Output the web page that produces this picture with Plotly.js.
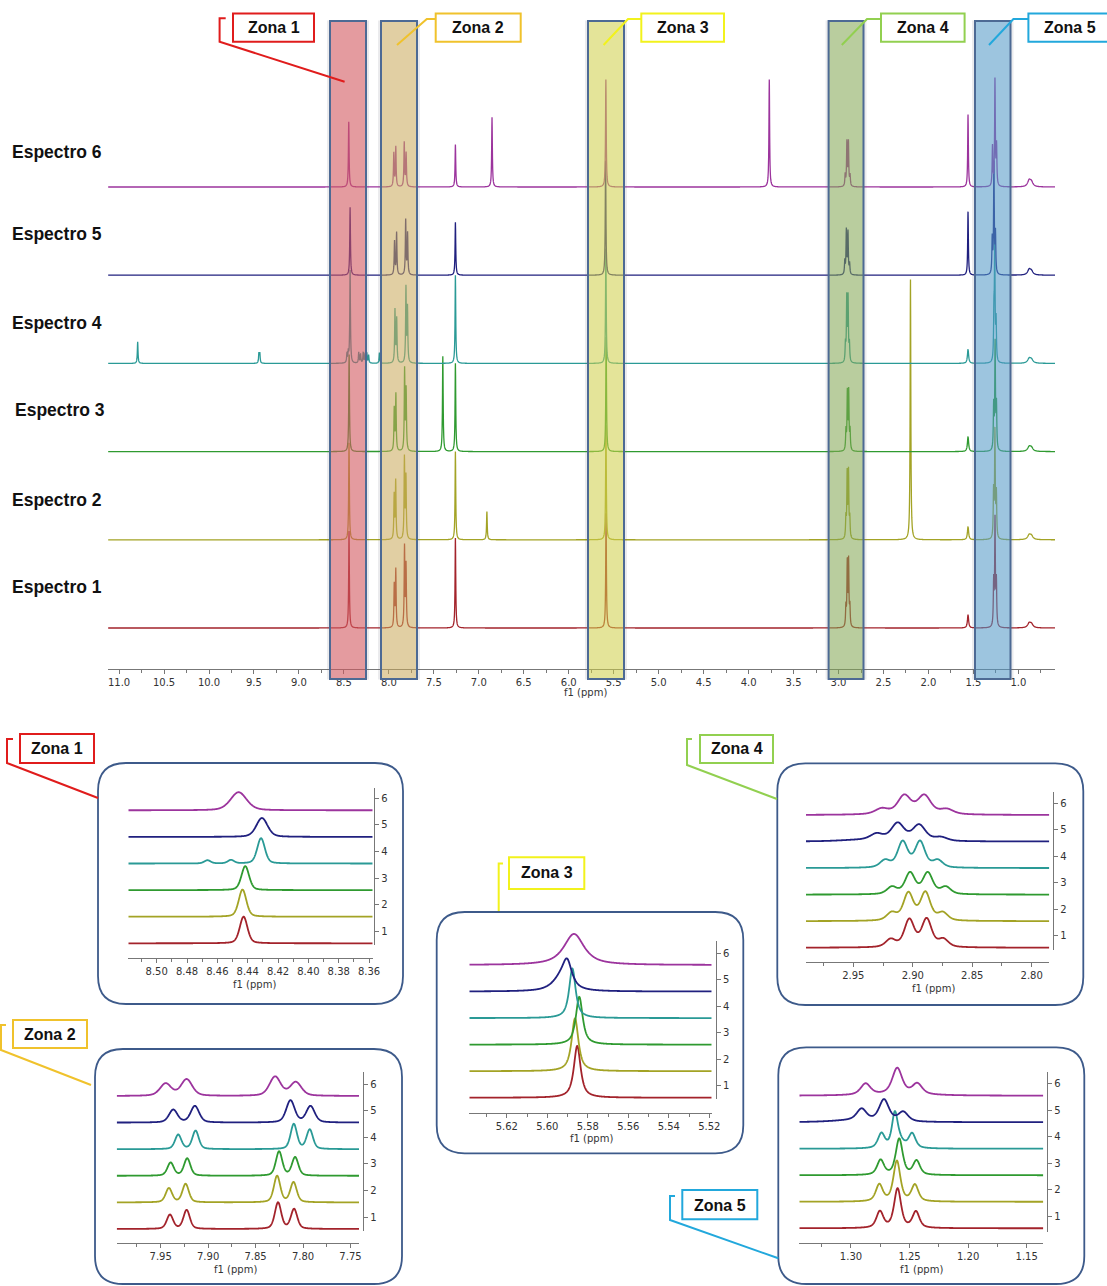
<!DOCTYPE html>
<html><head><meta charset="utf-8">
<script src="https://cdn.plot.ly/plotly-3.0.1.min.js"></script>
<style>body{margin:0;background:#fff}#chart{width:1107px;height:1286px}</style>
</head><body><div id="chart"></div>
<script>
// ---------------- DATA ----------------
const spectrumNames = ['Espectro 1','Espectro 2','Espectro 3','Espectro 4','Espectro 5','Espectro 6'];
const stackLabels = ['1','2','3','4','5','6'];
const zoneNames = ['Zona 1','Zona 2','Zona 3','Zona 4','Zona 5'];
const mainTickStep = 0.5;

// main spectra: [ppm, height (units of stack spacing), optional half width]
const mainE1 = [[8.443,1.10],[7.940,0.48],[7.923,0.65],[7.826,0.91],[7.809,0.70],[7.26,1.02],[5.585,1.30],
  [2.918,0.22],[2.903,0.71],[2.888,0.73],[2.874,0.22],[1.56,0.15,0.008],[1.275,0.50],[1.260,1.20],[1.245,0.50],[0.88,0.05,0.02],[0.855,0.04,0.02]];
const mainE2 = [[8.443,1.10],[7.941,0.50],[7.924,0.66],[7.827,0.92],[7.810,0.70],[7.26,1.00],[6.91,0.32],[5.586,1.30],
  [2.918,0.22],[2.904,0.72],[2.889,0.74],[2.875,0.22],[2.20,2.95],[1.56,0.15,0.008],[1.276,0.52],[1.261,1.20],[1.245,0.50],[0.88,0.05,0.02],[0.855,0.04,0.02]];
const mainE3 = [[8.442,1.10],[7.940,0.48],[7.922,0.64],[7.825,0.92],[7.808,0.69],[7.40,1.08],[7.26,1.00],[5.584,1.30],
  [2.9175,0.22],[2.902,0.64],[2.887,0.65],[2.872,0.22],[1.56,0.17,0.008],[1.275,0.50],[1.259,1.20],[1.244,0.50],[0.88,0.05,0.02],[0.855,0.04,0.02]];
const mainE4 = [[10.793,0.245],[9.445,0.11],[9.435,0.11],[8.431,1.05],[8.466,0.10],[8.451,0.11],[8.335,0.12],[8.315,0.10],[8.285,0.12],
  [8.265,0.10],[8.245,0.11],[8.225,0.09],[8.105,0.12],[7.932,0.60],[7.913,0.50],[7.810,0.85],[7.793,0.62],[7.26,1.00],[5.587,1.30],
  [2.923,0.20],[2.9085,0.72],[2.894,0.72],[2.879,0.20],[1.56,0.16,0.008],[1.272,0.50],[1.263,1.25],[1.248,0.45],[0.88,0.05,0.02],[0.855,0.04,0.02]];
const mainE5 = [[8.431,0.77],[7.937,0.38],[7.914,0.48],[7.813,0.62],[7.792,0.47],[7.26,0.60],[5.590,1.30],
  [2.930,0.15],[2.913,0.50],[2.895,0.48],[2.877,0.12],[1.56,0.72],[1.291,0.40],[1.272,1.25],[1.255,0.45],[0.88,0.06,0.02],[0.855,0.04,0.02]];
const mainE6 = [[8.446,0.74],[7.945,0.38],[7.923,0.45],[7.829,0.50],[7.808,0.38],[7.26,0.48],[6.853,0.79],[5.587,1.22],[3.77,1.22],
  [2.926,0.13],[2.907,0.50],[2.890,0.50],[2.872,0.12],[1.56,0.82],[1.288,0.45],[1.2605,1.20],[1.243,0.45],[0.88,0.07,0.02],[0.855,0.05,0.02]];

// zoomed zones: per spectrum 1..6, [ppm, height, half width]
const zona1Peaks = [
  [[8.4427,1.00,0.003]],
  [[8.4434,1.02,0.003]],
  [[8.4416,0.90,0.003]],
  [[8.4312,0.95,0.003],[8.4665,0.12,0.0025],[8.4510,0.13,0.0025]],
  [[8.4306,0.71,0.0044]],
  [[8.4460,0.68,0.0063]]
];
const zona2Peaks = [
  [[7.9402,0.53,0.004],[7.9226,0.71,0.004],[7.8263,0.99,0.004],[7.8094,0.74,0.004]],
  [[7.9413,0.53,0.004],[7.9237,0.69,0.004],[7.8273,0.99,0.004],[7.8100,0.75,0.004]],
  [[7.9395,0.49,0.004],[7.9220,0.65,0.004],[7.8252,0.91,0.004],[7.8083,0.69,0.004]],
  [[7.9315,0.54,0.004],[7.9132,0.69,0.004],[7.8097,0.94,0.004],[7.7929,0.73,0.004]],
  [[7.9367,0.48,0.0053],[7.9139,0.62,0.0053],[7.8132,0.83,0.0053],[7.7921,0.61,0.0053]],
  [[7.9447,0.46,0.007],[7.9226,0.62,0.007],[7.8294,0.72,0.007],[7.8076,0.51,0.007]]
];
const zona3Peaks = [
  [[5.5852,1.95,0.002]],
  [[5.5863,1.99,0.002]],
  [[5.5842,1.80,0.002]],
  [[5.5876,1.87,0.0019]],
  [[5.5902,0.95,0.0028],[5.5935,0.42,0.005]],
  [[5.5868,1.17,0.006]]
];
const zona4Peaks = [
  [[2.9186,0.29,0.005],[2.9029,1.03,0.005],[2.8883,1.05,0.005],[2.8743,0.29,0.005]],
  [[2.9177,0.29,0.005],[2.9037,1.03,0.005],[2.8894,1.05,0.005],[2.8748,0.29,0.005]],
  [[2.9175,0.27,0.005],[2.9023,0.80,0.005],[2.8874,0.80,0.005],[2.8723,0.27,0.005]],
  [[2.9233,0.27,0.005],[2.9085,0.97,0.005],[2.8939,0.97,0.005],[2.8790,0.27,0.005]],
  [[2.9303,0.24,0.0065],[2.9127,0.66,0.0065],[2.8947,0.60,0.0065],[2.8765,0.14,0.0065],[2.945,0.05,0.02]],
  [[2.9261,0.20,0.0065],[2.9071,0.68,0.0065],[2.8903,0.68,0.0065],[2.8715,0.18,0.0065],[2.90,0.04,0.03]]
];
const zona5Peaks = [
  [[1.2753,0.62,0.0035],[1.2602,1.48,0.0035],[1.2445,0.61,0.0035]],
  [[1.2758,0.63,0.0035],[1.2608,1.52,0.0035],[1.2454,0.62,0.0035]],
  [[1.2747,0.56,0.0035],[1.2588,1.36,0.0035],[1.2440,0.53,0.0035]],
  [[1.2740,0.55,0.0035],[1.2625,1.30,0.0030],[1.2575,0.20,0.004],[1.2478,0.55,0.0035]],
  [[1.2909,0.44,0.005],[1.2718,0.82,0.005],[1.2554,0.36,0.005],[1.30,0.06,0.02]],
  [[1.2875,0.42,0.005],[1.2605,0.98,0.005],[1.2434,0.40,0.005],[1.26,0.05,0.03]]
];

// ---------------- STYLE / LAYOUT ----------------
const W = 1107, H = 1286;
const px = x => x / W, py = y => 1 - y / H;
const colors = ['#a3232b','#a3a325','#2f9a30','#2a9a96','#20207f','#9c349d'];
const tickFont = {family:'DejaVu Sans, Verdana, sans-serif', size:10, color:'#333'};
const mainPeaks = [mainE1, mainE2, mainE3, mainE4, mainE5, mainE6];

function shape(d, eta){ return eta/(1+d*d) + (1-eta)*Math.exp(-0.693147*d*d); }
function spectrum(xs, peaks, w0, eta){
  return xs.map(x => { let s = 0; for (const p of peaks){ const d = (x-p[0])/(p[2]||w0); s += p[1]*shape(d, eta);} return s; });
}

const data = [];
const layout = {
  width: W, height: H, margin:{l:0,r:0,t:0,b:0},
  paper_bgcolor:'#fff', plot_bgcolor:'rgba(0,0,0,0)', showlegend:false,
  shapes:[], annotations:[]
};

// main plot
const mainRange = [11.123, 0.593];
const mainBase = 628, mainSp = 88.2, mainAxisY = 668.5;
layout.xaxis = {domain:[px(108), px(1055)], range:mainRange, anchor:'y', showgrid:false, zeroline:false,
  showline:true, linecolor:'#777', linewidth:1, ticks:'outside', ticklen:4, tickcolor:'#777',
  dtick:mainTickStep, tick0:0, tickformat:'.1f', tickfont:tickFont,
  minor:{dtick:mainTickStep/2, ticks:'outside', ticklen:3, tickcolor:'#777'}};
layout.yaxis = {domain:[py(mainAxisY), 1], range:[-(mainAxisY-mainBase)/mainSp, mainBase/mainSp], visible:false, fixedrange:true};

const mainOffs = [0,0.4,0.8,1.2,1.7,2.4,3.3,4.5,6,8,11,15,20,28,40];
mainPeaks.forEach((pk, i) => {
  const xs = [];
  for (let v = mainRange[1]; v <= mainRange[0]; v += 0.004) xs.push(v);
  pk.forEach(p => { const w = p[2]||0.0045; mainOffs.forEach(o => { xs.push(p[0]+o*w); xs.push(p[0]-o*w); }); });
  const xx = xs.filter(v => v >= mainRange[1] && v <= mainRange[0]).sort((a,b)=>a-b);
  const yy = spectrum(xx, pk, 0.0045, 1).map(v => v + i);
  data.push({type:'scatter', mode:'lines', x:xx, y:yy, xaxis:'x', yaxis:'y',
    line:{color:colors[i], width:1.3, simplify:false}, hoverinfo:'skip'});
});

const spLabelY = [587, 500, 410, 323, 234, 152];
const spLabelX = [10, 10, 13, 10, 10, 10];
spectrumNames.forEach((n,i) => layout.annotations.push({xref:'paper', yref:'paper', x:px(spLabelX[i]), y:py(spLabelY[i]),
  xanchor:'left', yanchor:'middle', showarrow:false, text:'<b>'+n+'</b>',
  font:{family:'Liberation Sans, Arial, sans-serif', size:17.5, color:'#111'}}));
layout.annotations.push({xref:'paper', yref:'paper', x:px(585), y:py(692.5), showarrow:false, text:'f1 (ppm)',
  xanchor:'center', yanchor:'middle', font:tickFont});

// zone highlight rectangles on main plot
const zoneRectX = [[330,366],[381,417],[588,624],[828.6,863.5],[975,1010.5]];
const zoneFill = ['rgba(222,90,95,0.55)','rgba(215,180,90,0.5)','rgba(222,222,70,0.5)','rgba(135,175,80,0.5)','rgba(80,160,210,0.5)'];
const zoneLabelColor = ['#e01c1c','#f0c22c','#f2f21c','#92d050','#22a8dc'];
zoneRectX.forEach((r,k) => {
  layout.shapes.push({type:'rect', xref:'paper', yref:'paper', x0:px(r[0]-3), x1:px(r[1]+3), y0:py(679.5), y1:py(20.5),
    fillcolor:'rgba(90,90,110,0.12)', line:{width:0}, layer:'above'});
  layout.shapes.push({type:'rect', xref:'paper', yref:'paper', x0:px(r[0]), x1:px(r[1]), y0:py(679), y1:py(21),
    fillcolor:zoneFill[k], line:{color:'#4d6a94', width:2}, layer:'above'});
});

// top zone labels
const topLabelBox = [[233,314],[435.7,520.7],[641.3,724],[881,964.6],[1028.4,1115]];
const topLabelTextX = [273.5, 478.2, 682.7, 922.8, 1070];
topLabelBox.forEach((b,k) => {
  layout.shapes.push({type:'rect', xref:'paper', yref:'paper', x0:px(b[0]), x1:px(b[1]), y0:py(41.7), y1:py(13.5),
    fillcolor:'#fff', line:{color:zoneLabelColor[k], width:2}, layer:'above'});
  layout.annotations.push({xref:'paper', yref:'paper', x:px(topLabelTextX[k]), y:py(28), showarrow:false,
    text:'<b>'+zoneNames[k]+'</b>', xanchor:'center', yanchor:'middle',
    font:{family:'Liberation Sans, Arial, sans-serif', size:16, color:'#111'}});
});
function pathPx(pts){ return pts.map((p,i)=>(i?'L':'M')+px(p[0]).toFixed(5)+','+py(p[1]).toFixed(5)).join(' '); }
const topCallouts = [
  [[225.7,18.3],[219.6,18.3],[219.6,41.7],[344.6,81.7]],
  [[397,45],[426.8,19],[435,19]],
  [[603.6,45],[628,19],[641,19]],
  [[841.8,45],[867,19],[881,19]],
  [[989,45],[1013.4,19],[1028,19]]
];
topCallouts.forEach((c,k) => layout.shapes.push({type:'path', xref:'paper', yref:'paper', path:pathPx(c),
  line:{color:zoneLabelColor[k], width:2}, layer:'above'}));

// ---------------- INSETS ----------------
function roundRect(x0,y0,x1,y1,r){
  const P=(x,y)=>px(x).toFixed(5)+','+py(y).toFixed(5);
  return 'M'+P(x0+r,y0)+' L'+P(x1-r,y0)+' Q'+P(x1,y0)+' '+P(x1,y0+r)+' L'+P(x1,y1-r)+' Q'+P(x1,y1)+' '+P(x1-r,y1)+
    ' L'+P(x0+r,y1)+' Q'+P(x0,y1)+' '+P(x0,y1-r)+' L'+P(x0,y0+r)+' Q'+P(x0,y0)+' '+P(x0+r,y0)+' Z';
}
const insets = [
  {peaks:zona1Peaks, eta:0.35, box:[98,763,403,1004], xL:128.3, xR:372.7, ppm:[8.5187,8.3576], dtick:0.02, axisY:958.3,
   yTop:788, yBot:945, yx:374.3, base1:943.3, sp:26.6, title:[254,984], label:[20,734,94,763], labelText:[57,748.5],
   callout:[[13,739],[7,739],[7,763],[98,798]]},
  {peaks:zona2Peaks, eta:0.4, box:[95,1049,402,1284], xL:116.7, xR:359, ppm:[7.9963,7.741], dtick:0.05, axisY:1243.3,
   yTop:1071.7, yBot:1230.7, yx:363.3, base1:1229, sp:26.6, title:[235,1269], label:[13,1020,87,1048], labelText:[50,1034],
   callout:[[6,1025],[1,1025],[1,1050],[91,1085]]},
  {peaks:zona3Peaks, eta:0.85, box:[436.7,912,743.3,1153.3], xL:469.3, xR:711.7, ppm:[5.6385,5.5188], dtick:0.02, axisY:1113.3,
   yTop:940.7, yBot:1099.3, yx:716, base1:1097.7, sp:26.54, title:[591.7,1138.5], label:[509,857.3,584.3,889], labelText:[546.7,873],
   callout:[[503,863.5],[498.7,863.5],[498.7,911]]},
  {peaks:zona4Peaks, eta:0.5, box:[777.3,763.3,1083.3,1005], xL:806, xR:1049.3, ppm:[2.9898,2.7852], dtick:0.05, axisY:962.3,
   yTop:791.7, yBot:950, yx:1053.3, base1:947.7, sp:26.54, title:[933.3,988.5], label:[700,735,773,763], labelText:[736.5,749],
   callout:[[692,739],[687,739],[687,765],[777,799]]},
  {peaks:zona5Peaks, eta:0.6, box:[778.3,1047.3,1084.3,1284], xL:799.3, xR:1043.3, ppm:[1.3441,1.1358], dtick:0.05, axisY:1243.3,
   yTop:1072.3, yBot:1231.7, yx:1047.3, base1:1228.3, sp:26.52, title:[921.7,1269.5], label:[682.3,1190,757.3,1219.3], labelText:[719.8,1205],
   callout:[[675,1196],[670,1196],[670,1220],[778.3,1258.3]]}
];

insets.forEach((ins,k) => {
  const xid = 'x'+(k+2), yid = 'y'+(k+2), vid = 'y'+(k+7);
  layout['xaxis'+(k+2)] = {domain:[px(ins.xL), px(ins.xR)], range:ins.ppm, anchor:'free', position:py(ins.axisY),
    showgrid:false, zeroline:false, showline:true, linecolor:'#777', linewidth:1, ticks:'outside', ticklen:4, tickcolor:'#777',
    dtick:ins.dtick, tick0:0, tickformat:'.2f', tickfont:tickFont, ticklabelstandoff:0,
    minor:{dtick:ins.dtick/2, ticks:'outside', ticklen:3, tickcolor:'#777'}};
  const top2 = ins.yTop - 30;
  layout['yaxis'+(k+2)] = {domain:[py(ins.yBot), py(top2)], range:[-(ins.yBot-ins.base1)/ins.sp, (ins.base1-top2)/ins.sp],
    anchor:xid, visible:false};
  layout['yaxis'+(k+7)] = {domain:[py(ins.yBot), py(ins.yTop)], range:[-(ins.yBot-ins.base1)/ins.sp, (ins.base1-ins.yTop)/ins.sp],
    anchor:'free', position:px(ins.yx), side:'right', showgrid:false, zeroline:false, showline:true, linecolor:'#777', linewidth:1,
    ticks:'outside', ticklen:4, tickcolor:'#777', tickvals:stackLabels.map((s,i)=>i+0.45), ticktext:stackLabels, tickfont:tickFont};
  const n = 900, xs = [];
  for (let j=0;j<=n;j++) xs.push(ins.ppm[1] + (ins.ppm[0]-ins.ppm[1])*j/n);
  ins.peaks.forEach((pk,i) => {
    const yy = spectrum(xs, pk, 0.004, ins.eta).map(v => v + i);
    data.push({type:'scatter', mode:'lines', x:xs, y:yy, xaxis:xid, yaxis:yid,
      line:{color:colors[i], width:1.8, simplify:false}, hoverinfo:'skip'});
  });
  data.push({type:'scatter', mode:'markers', x:[ins.ppm[0]], y:[-50], xaxis:xid, yaxis:vid,
    marker:{size:1, opacity:0}, hoverinfo:'skip'});
  const b = ins.box;
  layout.shapes.push({type:'path', xref:'paper', yref:'paper', path:roundRect(b[0],b[1],b[2],b[3],28),
    line:{color:'#3d5a8a', width:1.8}, fillcolor:'rgba(0,0,0,0)', layer:'below'});
  const L = ins.label;
  layout.shapes.push({type:'rect', xref:'paper', yref:'paper', x0:px(L[0]), x1:px(L[2]), y0:py(L[3]), y1:py(L[1]),
    fillcolor:'#fff', line:{color:zoneLabelColor[k], width:2}, layer:'above'});
  layout.shapes.push({type:'path', xref:'paper', yref:'paper', path:pathPx(ins.callout),
    line:{color:zoneLabelColor[k], width:2}, layer:'above'});
  layout.annotations.push({xref:'paper', yref:'paper', x:px(ins.labelText[0]), y:py(ins.labelText[1]), showarrow:false,
    text:'<b>'+zoneNames[k]+'</b>', xanchor:'center', yanchor:'middle',
    font:{family:'Liberation Sans, Arial, sans-serif', size:16, color:'#111'}});
  layout.annotations.push({xref:'paper', yref:'paper', x:px(ins.title[0]), y:py(ins.title[1]), showarrow:false,
    text:'f1 (ppm)', xanchor:'center', yanchor:'middle', font:tickFont});
});

Plotly.newPlot('chart', data, layout, {staticPlot:true, displayModeBar:false});
</script>
</body></html>
